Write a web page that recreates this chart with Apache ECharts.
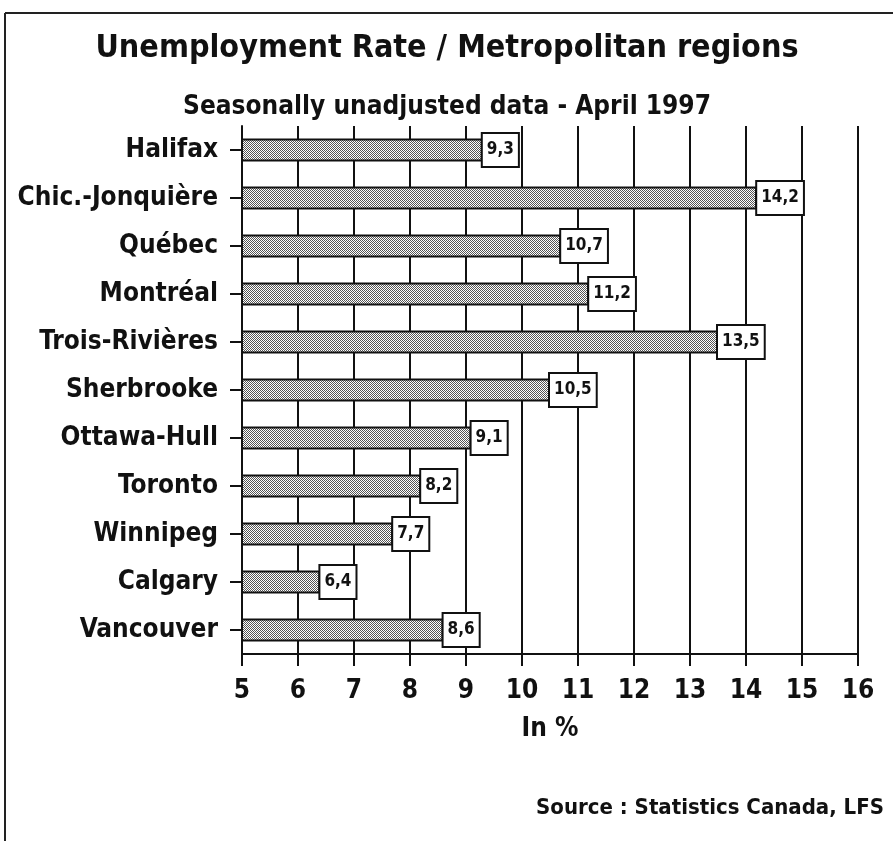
<!DOCTYPE html>
<html>
<head>
<meta charset="utf-8">
<script src="https://cdn.jsdelivr.net/npm/echarts@6/dist/echarts.min.js"></script>
<style>
  html, body { margin: 0; padding: 0; background: #fff; }
  #chart { width: 893px; height: 841px; }
</style>
</head>
<body>
<div id="chart"></div>
<script>
// regions, top to bottom
var regions = ['Halifax', 'Chic.-Jonquière', 'Québec', 'Montréal', 'Trois-Rivières', 'Sherbrooke',
  'Ottawa-Hull', 'Toronto', 'Winnipeg', 'Calgary', 'Vancouver'];
// unemployment rate, %
var rates = [9.3, 14.2, 10.7, 11.2, 13.5, 10.5, 9.1, 8.2, 7.7, 6.4, 8.6];
var axisMin = 5;
var axisMax = 16;

var FONT = '"Liberation Sans Narrow", "DejaVu Sans Condensed", Arial, sans-serif';

// halftone fill like the printed bars
function makePattern () {
  var c = document.createElement('canvas');
  c.width = 2;
  c.height = 2;
  var ctx = c.getContext('2d');
  ctx.fillStyle = '#ffffff';
  ctx.fillRect(0, 0, 2, 2);
  ctx.fillStyle = '#555555';
  ctx.fillRect(0, 0, 1, 1);
  ctx.fillRect(1, 1, 1, 1);
  return c;
}

var chart = echarts.init(document.getElementById('chart'));
chart.setOption({
  animation: false,
  backgroundColor: '#ffffff',
  title: [{
    text: 'Unemployment Rate / Metropolitan regions',
    left: 442, top: 28, textAlign: 'center',
    textStyle: { fontFamily: FONT, fontSize: 32, fontWeight: 'bold', color: '#111' }
  }, {
    text: 'Seasonally unadjusted data - April 1997',
    left: 442, top: 89, textAlign: 'center',
    textStyle: { fontFamily: FONT, fontSize: 26, fontWeight: 'bold', color: '#111' }
  }, {
    text: 'Source : Statistics Canada, LFS',
    right: 4, top: 792,
    textStyle: { fontFamily: FONT, fontSize: 22, fontWeight: 'bold', color: '#111' }
  }],
  graphic: [
    { type: 'line', shape: { x1: 5, y1: 13, x2: 893, y2: 13 }, style: { stroke: '#222', lineWidth: 2 } },
    { type: 'line', shape: { x1: 5, y1: 13, x2: 5, y2: 841 }, style: { stroke: '#222', lineWidth: 2 } }
  ],
  grid: { left: 242, right: 35, top: 126, bottom: 187, containLabel: false },
  xAxis: {
    type: 'value',
    min: axisMin,
    max: axisMax,
    interval: 1,
    name: 'In %',
    nameLocation: 'middle',
    nameGap: 62,
    nameTextStyle: { fontFamily: FONT, fontSize: 26, fontWeight: 'bold', color: '#111' },
    axisLine: { show: true, lineStyle: { color: '#111', width: 2 } },
    axisTick: { show: true, length: 12, lineStyle: { color: '#111', width: 2 } },
    axisLabel: { margin: 24, fontFamily: FONT, fontSize: 26, fontWeight: 'bold', color: '#111' },
    splitLine: { show: true, lineStyle: { color: '#111', width: 2 } }
  },
  yAxis: {
    type: 'category',
    data: regions,
    inverse: true,
    axisLine: { show: true, lineStyle: { color: '#111', width: 2 } },
    axisTick: { show: true, length: 12, alignWithLabel: true, lineStyle: { color: '#111', width: 2 } },
    axisLabel: { margin: 24, fontFamily: FONT, fontSize: 26, fontWeight: 'bold', color: '#111' },
    splitLine: { show: false }
  },
  series: [{
    type: 'bar',
    data: rates,
    barWidth: 23,
    itemStyle: {
      color: { image: makePattern(), repeat: 'repeat' },
      borderColor: '#111',
      borderWidth: 2
    },
    label: {
      show: true,
      position: 'right',
      distance: 0,
      formatter: function (p) { return String(p.value).replace('.', ','); },
      fontFamily: FONT,
      fontSize: 17,
      fontWeight: 'bold',
      color: '#111',
      backgroundColor: '#fff',
      borderColor: '#111',
      borderWidth: 2,
      padding: [8, 4, 7, 4]
    }
  }]
});
</script>
</body>
</html>
